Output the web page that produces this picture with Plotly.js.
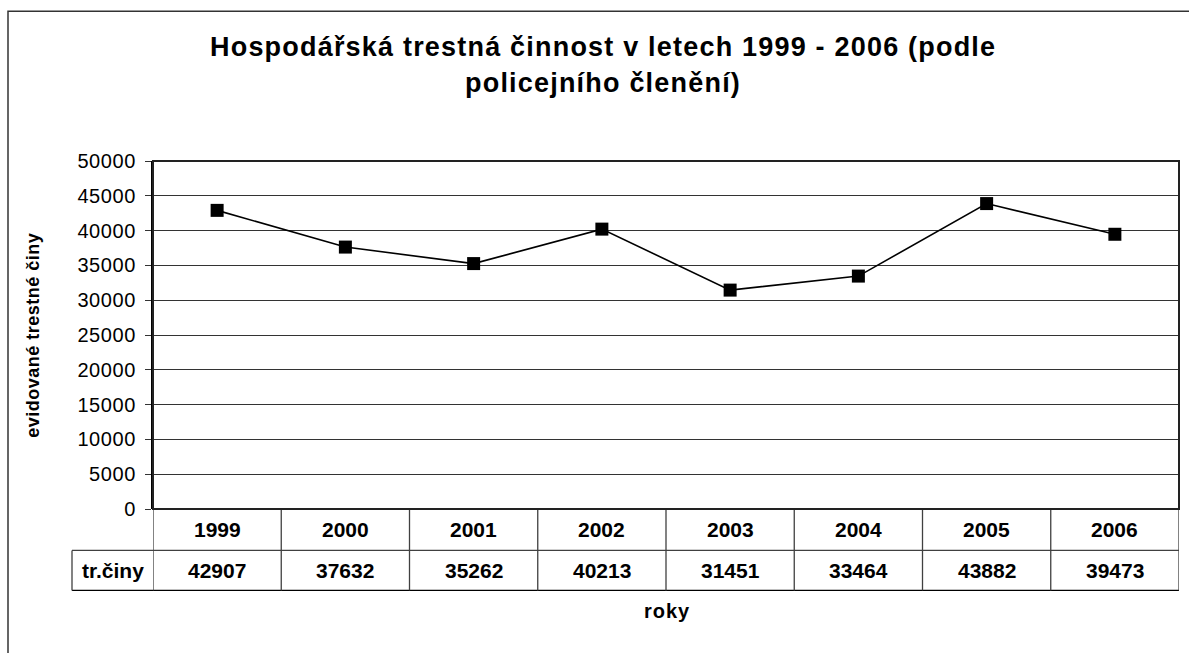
<!DOCTYPE html>
<html>
<head>
<meta charset="utf-8">
<script src="https://cdn.plot.ly/plotly-3.0.1.min.js"></script>
<style>
html,body{margin:0;padding:0;background:#fff;}
#chart{width:1189px;height:653px;}
.ytick text{letter-spacing:0.6px;}
</style>
</head>
<body>
<div id="chart"></div>
<script>
var years = ['1999','2000','2001','2002','2003','2004','2005','2006'];
var crimes = [42907, 37632, 35262, 40213, 31451, 33464, 43882, 39473];
var seriesName = 'tr.činy';
var titleLines = ['Hospodářská trestná činnost v letech 1999 - 2006 (podle', 'policejního členění)'];
var yTitle = 'evidované trestné činy';
var xTitle = 'roky';

var FONT = 'Arial, "Liberation Sans", sans-serif';
var W = 1189, H = 653;
var L = 153, R = 1179, T = 161, B = 509.5;
var pw = R - L, ph = B - T;
function px(xp){ return (xp - L) / pw; }
function py(yp){ return (B - yp) / ph; }
function spaced(t, ls){ return '<span style="letter-spacing:' + ls + 'px"><b>' + t + '</b></span>'; }

var trace = {
  x: years.map(function(_, i){ return i; }),
  y: crimes,
  type: 'scatter',
  mode: 'lines+markers',
  name: seriesName,
  line: {color: '#000', width: 1.6},
  marker: {symbol: 'square', size: 13, color: '#000'},
  hoverinfo: 'x+y'
};

var annotations = [];
var shapes = [];
var row1 = py(530.5), row2 = py(571.5);
var cellFont = {family:FONT, size:21, color:'#000'};
years.forEach(function(yr, i){
  annotations.push({xref:'x', yref:'paper', x:i, y:row1, text:'<b>'+yr+'</b>', showarrow:false,
    font:cellFont, xanchor:'center', yanchor:'middle'});
  annotations.push({xref:'x', yref:'paper', x:i, y:row2, text:'<b>'+crimes[i]+'</b>', showarrow:false,
    font:cellFont, xanchor:'center', yanchor:'middle'});
});
annotations.push({xref:'paper', yref:'paper', x:px(113), y:row2, text:'<b>'+seriesName+'</b>', showarrow:false,
  font:cellFont, xanchor:'center', yanchor:'middle'});
// title lines
annotations.push({xref:'paper', yref:'paper', x:px(603), y:py(47), text:spaced(titleLines[0], 1.2), showarrow:false,
  font:{family:FONT, size:27, color:'#000'}, xanchor:'center', yanchor:'middle'});
annotations.push({xref:'paper', yref:'paper', x:px(603), y:py(83), text:spaced(titleLines[1], 1.2), showarrow:false,
  font:{family:FONT, size:27, color:'#000'}, xanchor:'center', yanchor:'middle'});
// axis titles
annotations.push({xref:'paper', yref:'paper', x:px(33), y:py(336), text:spaced(yTitle, 0.5), showarrow:false, textangle:-90,
  font:{family:FONT, size:18, color:'#000'}, xanchor:'center', yanchor:'middle'});
annotations.push({xref:'paper', yref:'paper', x:px(667), y:py(612), text:spaced(xTitle, 1), showarrow:false,
  font:{family:FONT, size:20, color:'#000'}, xanchor:'center', yanchor:'middle'});

var lc = '#404040';
// table horizontal lines
shapes.push({type:'line', xref:'paper', yref:'paper', x0:px(72), x1:1, y0:py(551), y1:py(551), line:{color:lc, width:1.3}});
shapes.push({type:'line', xref:'paper', yref:'paper', x0:px(72), x1:1, y0:py(591), y1:py(591), line:{color:'#000', width:1.3}});
shapes.push({type:'line', xref:'paper', yref:'paper', x0:px(72), x1:px(72), y0:py(551), y1:py(591), line:{color:lc, width:1.3}});
// vertical lines between columns
for (var k = 0; k <= years.length; k++) {
  shapes.push({type:'line', xref:'x', yref:'paper', x0:k-0.5, x1:k-0.5, y0:0, y1:py(591), line:{color:lc, width:1.3}});
}
// outer chart border
shapes.push({type:'rect', xref:'paper', yref:'paper', x0:px(8), x1:px(1200), y0:py(11), y1:py(680), line:{color:'#333', width:1.5}, fillcolor:'rgba(0,0,0,0)', layer:'below'});
// plot frame
shapes.push({type:'rect', xref:'paper', yref:'paper', x0:0, x1:1, y0:0, y1:1, line:{color:'#222', width:2}, fillcolor:'rgba(0,0,0,0)'});

var layout = {
  width: W, height: H,
  margin: {l: L, r: W - R, t: T, b: H - B, pad: 0},
  paper_bgcolor: '#fff', plot_bgcolor: '#fff',
  showlegend: false,
  font: {family: FONT, color: '#000'},
  xaxis: {
    range: [-0.5, years.length - 0.5],
    showticklabels: false, showgrid: false, zeroline: false,
    ticks: '', showline: false, fixedrange: true
  },
  yaxis: {
    range: [0, 50000], dtick: 5000, tick0: 0, tickformat: 'd',
    showgrid: true, gridcolor: '#333', gridwidth: 1,
    zeroline: false, showline: true, linecolor: '#000', linewidth: 2,
    ticks: 'outside', ticklen: 6, tickcolor: '#333', tickwidth: 1,
    tickfont: {family: FONT, size: 20, color: '#000'},
    ticklabelstandoff: 5,
    fixedrange: true
  },
  annotations: annotations,
  shapes: shapes
};

Plotly.newPlot('chart', [trace], layout, {displayModeBar: false, staticPlot: true});
</script>
</body>
</html>
